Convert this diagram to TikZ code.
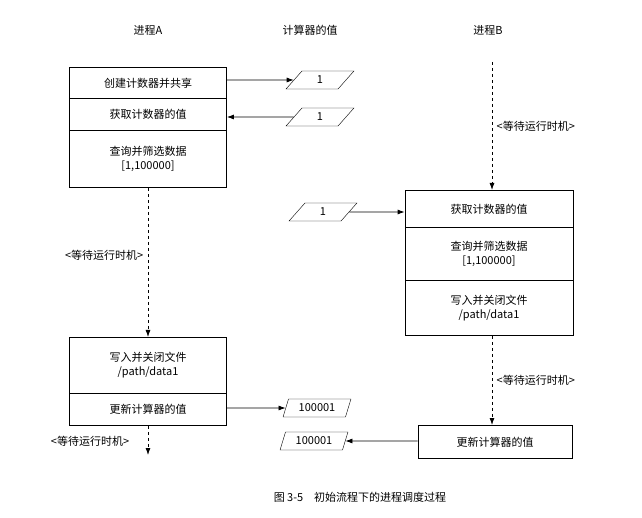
\documentclass[tikz,border=0pt]{standalone}
\usepackage{fontspec}
\setmainfont{Liberation Serif}
\newfontfamily\cjk{Noto Sans CJK SC}
\usetikzlibrary{shapes.geometric,arrows.meta}
\begin{document}
\begin{tikzpicture}[x=1pt,y=-1pt,font=\cjk\fontsize{11pt}{14pt}\selectfont,
  cell/.style={draw,thick,minimum width=157pt,inner sep=0pt,align=center,anchor=north},
  para/.style={draw,trapezium,trapezium stretches=true,trapezium left angle=70,trapezium right angle=110,minimum width=68pt,minimum height=18pt,inner sep=1pt},
  arr/.style={-{Latex[length=7pt,width=5pt]},thick},
  darr/.style={arr,dashed}]
\useasboundingbox (0,0) rectangle (642,518);
\node (hA) at (148,30) {进程A};
\node (hC) at (310,30) {计算器的值};
\node (hB) at (488,30) {进程B};
% box A1
\node[cell,minimum height=31pt] (a1) at (148,67) {创建计数器并共享};
\node[cell,minimum height=32pt] (a2) at (148,98) {获取计数器的值};
\node[cell,minimum height=57pt] (a3) at (148,130) {查询并筛选数据\\{[1,100000]}};
% box A2
\node[cell,minimum height=56pt] (a4) at (148,337) {写入并关闭文件\\/path/data1};
\node[cell,minimum height=32pt] (a5) at (148,393) {更新计算器的值};
% box B1
\node[cell,minimum width=168pt,minimum height=37pt] (b1) at (489,190) {获取计数器的值};
\node[cell,minimum width=168pt,minimum height=53pt] (b2) at (489,227) {查询并筛选数据\\{[1,100000]}};
\node[cell,minimum width=168pt,minimum height=55pt] (b3) at (489,280) {写入并关闭文件\\/path/data1};
\node[cell,minimum width=154pt,minimum height=33pt] (b4) at (495,425) {更新计算器的值};
% values
\node[para] (v1) at (320,80) {1};
\node[para] (v2) at (320,117) {1};
\node[para] (v3) at (323,212) {1};
\node[para] (v4) at (317,408) {100001};
\node[para] (v5) at (314,441) {100001};
% arrows
\draw[arr] (a1.east |- v1) -- (v1.west);
\draw[arr] (v2.west) -- (a2.east |- v2);
\draw[arr] (v3.east) -- (b1.west |- v3);
\draw[arr] (a5.east |- v4) -- (v4.west);
\draw[arr] (b4.west |- v5) -- (v5.east);
% dashed
\coordinate (bt) at (492,62);
\coordinate (ae) at (148,455);
\draw[darr] (a3.south) -- node[left,pos=0.45,xshift=-1pt] {<等待运行时机>} (a4.north);
\draw[darr] (a5.south) -- (ae);
\node (w2) at (90,441) {<等待运行时机>};
\draw[darr] (bt) -- node[right,pos=0.5,xshift=1pt] {<等待运行时机>} (bt |- b1.north);
\draw[darr] (bt |- b3.south) -- node[right,pos=0.5,xshift=1pt] {<等待运行时机>} (bt |- b4.north);
\node (cap) at (360,497) {图 3-5\quad 初始流程下的进程调度过程};
\end{tikzpicture}
\end{document}
